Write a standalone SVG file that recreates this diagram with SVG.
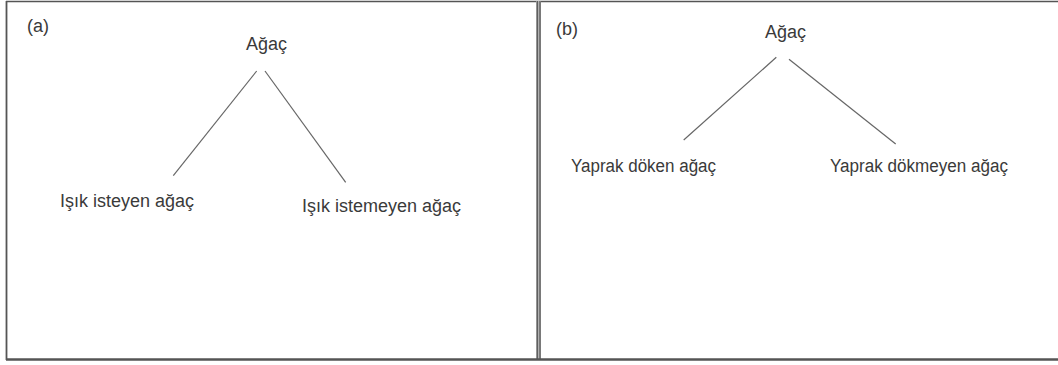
<svg xmlns="http://www.w3.org/2000/svg" width="1058" height="365" viewBox="0 0 1058 365">
<style>
  text { font-family: "Liberation Sans", Arial, sans-serif; font-size: 18px; fill: #3a3a3a; }
  .frame { stroke: #555; fill: none; }
  .edge { stroke: #666; stroke-width: 1.2; fill: none; }
</style>
<rect x="0" y="0" width="1058" height="365" fill="#ffffff"/>
<g id="frame">
  <line class="frame" x1="6" y1="1.5" x2="1058" y2="1.5" stroke-width="1.5"/>
  <line class="frame" x1="6.5" y1="1" x2="6.5" y2="360" stroke-width="1.8"/>
  <rect x="536" y="1" width="5" height="359" fill="#b0b0b0"/>
  <line class="frame" x1="537.3" y1="1" x2="537.3" y2="360" stroke-width="1.2" stroke="#333"/>
  <line class="frame" x1="540" y1="1" x2="540" y2="360" stroke-width="1.2" stroke="#333"/>
  <line class="frame" x1="6" y1="359.5" x2="1058" y2="359.5" stroke-width="2.5" stroke="#444"/>
</g>
<g id="connectors">
  <line class="edge" x1="256.7" y1="71" x2="173.3" y2="175.7"/>
  <line class="edge" x1="265" y1="71" x2="345.7" y2="182.3"/>
  <line class="edge" x1="776.3" y1="57.3" x2="683.7" y2="140"/>
  <line class="edge" x1="789" y1="59.3" x2="895.7" y2="144"/>
</g>
<g id="label-a"><text x="27" y="32">(a)</text></g>
<g id="node-a-root"><text x="246" y="50">Ağaç</text></g>
<g id="node-a-left"><text x="60" y="207">Işık isteyen ağaç</text></g>
<g id="node-a-right"><text x="302" y="212">Işık istemeyen ağaç</text></g>
<g id="label-b"><text x="556" y="35">(b)</text></g>
<g id="node-b-root"><text x="765" y="38">Ağaç</text></g>
<g id="node-b-left"><text x="571" y="172" textLength="145" lengthAdjust="spacingAndGlyphs">Yaprak döken ağaç</text></g>
<g id="node-b-right"><text x="830" y="172" textLength="178" lengthAdjust="spacingAndGlyphs">Yaprak dökmeyen ağaç</text></g>
</svg>
